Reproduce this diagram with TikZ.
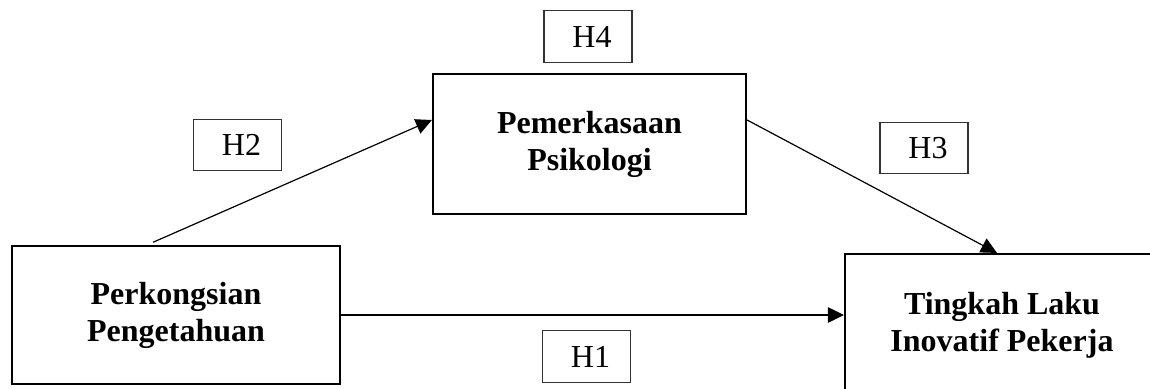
\documentclass[tikz,border=0pt]{standalone}
\usepackage{fontspec}
\setmainfont{Liberation Serif}
\usetikzlibrary{arrows.meta}

\begin{document}
\begin{tikzpicture}
		[x=0.375pt,y=-0.375pt,
		 box/.style= {draw=black,line width=0.8pt,rectangle,align=center,inner sep=0pt,
			font=\fontsize{12}{13.9}\selectfont\bfseries},
		 hyp/.style= {draw=black!80,line width=0.4pt,rectangle,inner sep=0pt,
			minimum width=33pt,minimum height=19.3pt,font=\fontsize{12}{14}\selectfont},
		 arr/.style= {-{Triangle[length=6pt,width=5.8pt]},line width=0.45pt}]

		\useasboundingbox (0,0) rectangle (1150,389);
		\clip (0,0) rectangle (1150,389);

		\node[box,minimum width=123pt,minimum height=51.75pt] (kongsi) at (176,315)
			{Perkongsian\\Pengetahuan};

		\node[box,minimum width=117.4pt,minimum height=52.5pt] (psiko) at (589.5,144)
			{Pemerkasaan\\Psikologi};

		\node[box,minimum width=117.75pt,minimum height=53.25pt] (tingkah) at (1002,325)
			{Tingkah Laku\\Inovatif Pekerja};

		% hipotesis
		\node[hyp] (h4) at (588,36.5) {\ H4};
		\node[hyp] (h2) at (237.5,145) {\ H2};
		\node[hyp] (h3) at (924,148) {\ H3};
		\node[hyp] (h1) at (586.5,356.5) {\ H1};

		\draw[arr] ([xshift=-8.6pt,yshift=1pt]kongsi.north) -- ([yshift=9pt]psiko.west);
		\draw[arr] ([yshift=9pt]psiko.east) -- ([xshift=57.4pt]tingkah.north west);
		\draw[arr] (kongsi.east) -- (kongsi.east -| tingkah.west);

	\end{tikzpicture}
\end{document}
